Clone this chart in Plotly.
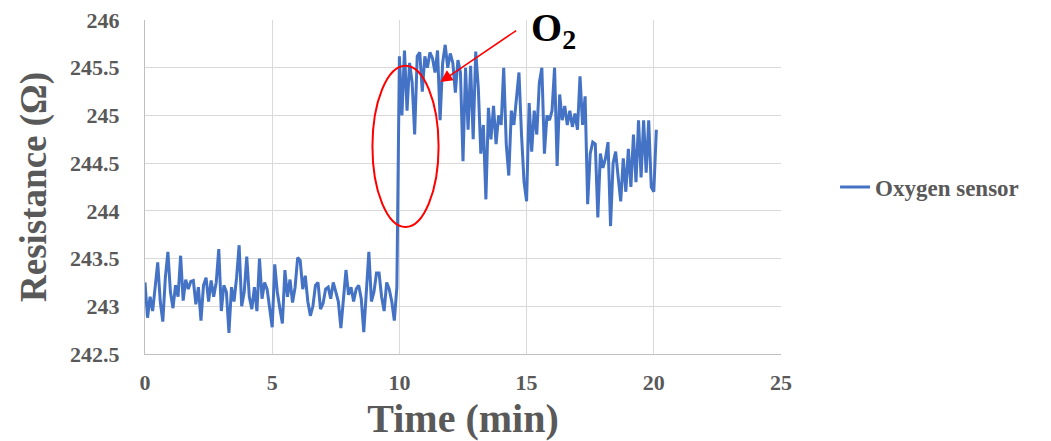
import numpy as np
import plotly.graph_objects as go

# time sampled every 0.1 min
time_min = [round(0.1 * i, 1) for i in range(202)]

resistance = [
    # 0.0 - 4.9
    243.25, 242.88, 243.10, 242.95, 243.20, 243.46, 243.05, 242.84, 243.30, 243.57,
    243.15, 242.98, 243.22, 243.10, 243.53, 243.06, 243.28, 243.18, 243.26, 243.27,
    243.02, 243.20, 242.85, 243.22, 243.30, 243.05, 243.27, 243.10, 243.25, 243.60,
    242.95, 243.22, 243.15, 242.72, 243.20, 243.05, 243.30, 243.64, 243.00, 243.15,
    243.52, 243.10, 242.97, 243.20, 242.95, 243.50, 243.08, 243.25, 243.18, 243.00,
    # 5.0 - 9.9
    242.78, 243.44, 243.15, 242.98, 242.82, 243.38, 243.10, 243.28, 243.04, 243.20,
    243.51, 243.48, 243.18, 243.32, 243.05, 242.90, 243.00, 243.22, 243.25, 242.97,
    243.03, 243.18, 243.20, 243.08, 243.25, 243.15, 243.05, 242.77, 243.10, 243.38,
    243.12, 243.20, 243.05, 243.18, 243.22, 243.08, 242.73, 243.15, 243.57, 243.05,
    243.15, 243.35, 243.35, 243.10, 242.95, 243.25, 243.18, 243.05, 242.85, 243.20,
    # 10.0 - 14.9
    245.62, 245.00, 245.68, 245.05, 245.55, 245.35, 244.80, 245.62, 245.66, 245.25,
    245.62, 245.50, 245.66, 245.60, 245.45, 245.68, 244.95, 245.55, 245.74, 245.50,
    245.65, 245.55, 245.24, 245.58, 245.45, 244.52, 245.50, 244.85, 245.52, 244.75,
    245.67, 245.30, 244.60, 244.90, 244.12, 245.08, 244.75, 245.10, 244.70, 245.00,
    244.90, 245.50, 244.70, 244.37, 245.05, 244.90, 245.20, 245.45, 244.80, 244.30,
    # 15.0 - 19.9
    244.10, 245.13, 244.62, 245.05, 244.80, 245.34, 245.50, 244.60, 245.00, 244.95,
    245.05, 245.50, 244.47, 245.22, 244.95, 245.10, 244.90, 245.05, 244.88, 245.02,
    244.85, 245.41, 244.90, 245.20, 244.07, 244.60, 244.72, 244.70, 243.93, 244.60,
    244.45, 244.55, 244.72, 243.84, 244.50, 244.62, 244.35, 244.10, 244.55, 244.20,
    244.65, 244.25, 244.80, 244.30, 244.95, 244.35, 244.95, 244.40, 244.95, 244.25,
    # 20.0 - 20.1
    244.20, 244.85,
]

x_ticks = [0, 5, 10, 15, 20, 25]
y_ticks = [242.5, 243, 243.5, 244, 244.5, 245, 245.5, 246]
series_name = "Oxygen sensor"

SERIF = "Liberation Serif, Times New Roman, serif"
GRAY = "#595959"

fig = go.Figure()
fig.add_trace(go.Scatter(
    x=time_min, y=resistance, mode="lines", name=f"<b>{series_name}</b>",
    line=dict(color="#4472C4", width=3),
))

# red ellipse around the step
fig.add_shape(type="circle", xref="x", yref="y",
              x0=8.94, x1=11.54, y0=243.83, y1=245.52,
              line=dict(color="#FF0000", width=2))

# O2 label with arrow
fig.add_annotation(x=11.61, y=245.35, ax=14.65, ay=245.9, xref="x", yref="y",
                   axref="x", ayref="y", text="", showarrow=True,
                   arrowhead=2, arrowsize=1.6, arrowwidth=1.5, arrowcolor="#FF0000")
fig.add_annotation(x=16.05, y=245.9, xref="x", yref="y", text="<b>O<sub>2</sub></b>",
                   showarrow=False, font=dict(family=SERIF, size=40, color="black"))

fig.update_layout(
    width=1051, height=441,
    margin=dict(l=145, r=270, t=20, b=87, autoexpand=False),
    plot_bgcolor="white", paper_bgcolor="white",
    font=dict(family=SERIF, color=GRAY),
    showlegend=True,
    legend=dict(x=1.085, y=0.5, xanchor="left", yanchor="middle",
                font=dict(family=SERIF, size=23, color=GRAY),
                bgcolor="rgba(0,0,0,0)"),
)
fig.update_xaxes(
    range=[0, 25], tickvals=x_ticks, ticktext=[f"<b>{v}</b>" for v in x_ticks],
    showgrid=True, gridcolor="#D9D9D9", gridwidth=1, automargin=False,
    showline=True, linecolor="#BFBFBF", linewidth=1, zeroline=False,
    tickfont=dict(family=SERIF, size=22, color=GRAY), ticklabelstandoff=9,
    title=dict(text="<b>Time (min)</b>", font=dict(family=SERIF, size=40, color=GRAY), standoff=11),
)
fig.update_yaxes(
    range=[242.5, 246], tickvals=y_ticks, ticktext=[f"<b>{v:g}</b>" for v in y_ticks],
    showgrid=True, gridcolor="#D9D9D9", gridwidth=1, automargin=False,
    showline=True, linecolor="#BFBFBF", linewidth=1, zeroline=False,
    tickfont=dict(family=SERIF, size=22, color=GRAY), ticklabelstandoff=20,
    title=dict(text="<b>Resistance (Ω)</b>", font=dict(family=SERIF, size=37, color=GRAY), standoff=12),
)

fig.write_html("out.html")
